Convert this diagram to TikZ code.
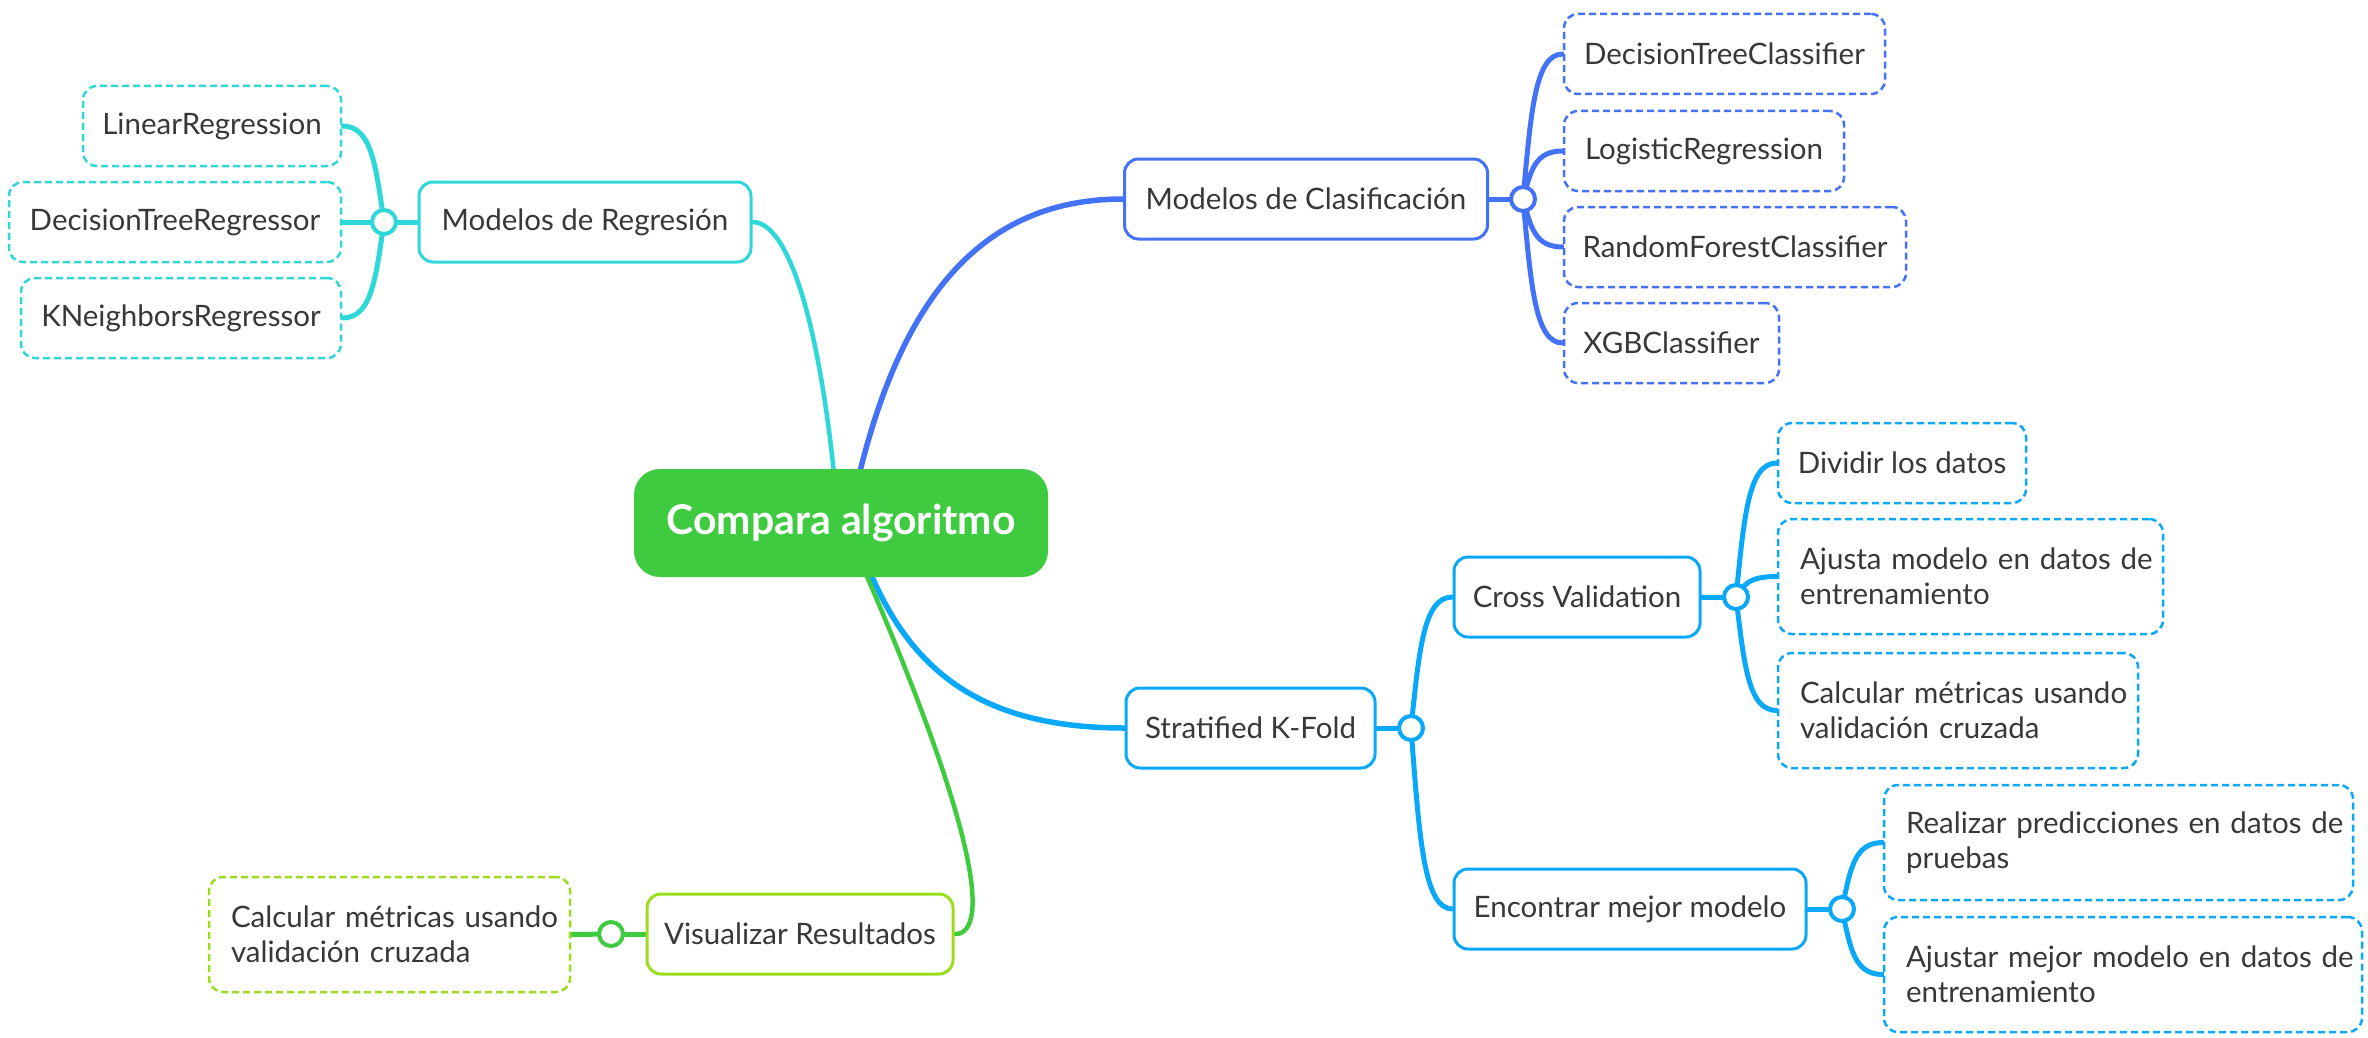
\documentclass[tikz,border=0pt]{standalone}
\usepackage{fontspec}
\setmainfont{Lato}
\usetikzlibrary{calc,backgrounds}
\definecolor{cyanc}{HTML}{2ED8D8}
\definecolor{bluec}{HTML}{4472F6}
\definecolor{skyc}{HTML}{0AA8F8}
\definecolor{greenc}{HTML}{3FCB3F}
\definecolor{limec}{HTML}{9BDD1A}
\definecolor{txt}{HTML}{383838}
\newcommand\hubleaf[3]{\draw[conn,#1] let \p1=(#2.center), \p2=(#3.west) in (\p1) .. controls ({\x1+0.2*(\x2-\x1)},{\y1+0.6*(\y2-\y1)}) and ({\x1+0.3*(\x2-\x1)},{\y2}) .. (\p2);}
\newcommand\hubleafL[3]{\draw[conn,#1] let \p1=(#2.center), \p2=(#3.east) in (\p1) .. controls ({\x1+0.2*(\x2-\x1)},{\y1+0.6*(\y2-\y1)}) and ({\x1+0.3*(\x2-\x1)},{\y2}) .. (\p2);}
\newcommand\twoln[2]{\mbox{#1}\\\mbox{#2}}
\begin{document}
\begin{tikzpicture}[x=1pt,y=-1pt,
  box/.style={draw, line width=3pt, rounded corners=14pt, fill=white, text=txt, font=\fontsize{29.5}{35}\selectfont, inner sep=0pt, align=center},
  leaf/.style={draw, line width=2.5pt, dash pattern=on 7pt off 4pt, rounded corners=14pt, fill=white, text=txt, font=\fontsize{29.5}{35}\selectfont, inner sep=0pt, align=center},
  sz/.style 2 args={minimum width=#1, minimum height=#2},
  two/.style={text width=#1, align=left},
  hub/.style={circle, draw, fill=white, line width=4pt, minimum size=24pt, inner sep=0pt},
  conn/.style={line width=5pt, line cap=round}]
\useasboundingbox (0,0) rectangle (2368,1038);
% central
\node[fill=greenc, rounded corners=26pt, minimum width=414pt, minimum height=108pt, text=white, font=\fontsize{41}{48}\selectfont\bfseries] (central) at (841,523) {Compara algoritmo};
% regression
\node[box, draw=cyanc, sz={332pt}{80pt}] (reg) at (585,222) {Modelos de Regresión};
\node[leaf, draw=cyanc, sz={258pt}{80pt}] (lin) at (212,126) {LinearRegression};
\node[leaf, draw=cyanc, sz={332pt}{80pt}] (dtr) at (175,222) {DecisionTreeRegressor};
\node[leaf, draw=cyanc, sz={320pt}{80pt}] (knr) at (181,318) {KNeighborsRegressor};
% classification
\node[box, draw=bluec, sz={363pt}{80pt}] (cla) at (1306,199) {Modelos de Clasificación};
\node[leaf, draw=bluec, sz={321pt}{80pt}] (dtc) at (1724.5,54) {DecisionTreeClassifier};
\node[leaf, draw=bluec, sz={280pt}{80pt}] (lrc) at (1704,151) {LogisticRegression};
\node[leaf, draw=bluec, sz={342pt}{80pt}] (rfc) at (1735,247) {RandomForestClassifier};
\node[leaf, draw=bluec, sz={215pt}{80pt}] (xgb) at (1671.5,343) {XGBClassifier};
% stratified
\node[box, draw=skyc, sz={249pt}{80pt}] (skf) at (1250.5,728) {Stratified K-Fold};
\node[box, draw=skyc, sz={246pt}{80pt}] (cv) at (1577,597) {Cross Validation};
\node[leaf, draw=skyc, sz={248pt}{80pt}] (div) at (1902,463) {Dividir los datos};
\node[leaf, draw=skyc, sz={385pt}{115pt}, two=341pt] (aju) at (1970.5,576.5) {\twoln{Ajusta modelo en datos de}{entrenamiento}};
\node[leaf, draw=skyc, sz={360pt}{115pt}, two=316pt] (cal) at (1958,710.5) {\twoln{Calcular métricas usando}{validación cruzada}};
\node[box, draw=skyc, sz={352pt}{80pt}] (enc) at (1630,909) {Encontrar mejor modelo};
\node[leaf, draw=skyc, sz={469pt}{115pt}, two=425pt] (rea) at (2118.5,842.5) {\twoln{Realizar predicciones en datos de}{pruebas}};
\node[leaf, draw=skyc, sz={478pt}{115pt}, two=434pt] (ajm) at (2123,974.5) {\twoln{Ajustar mejor modelo en datos de}{entrenamiento}};
% visualizar
\node[box, draw=limec, sz={306pt}{80pt}] (vis) at (800,934) {Visualizar Resultados};
\node[leaf, draw=limec, sz={361pt}{115pt}, two=317pt] (cmg) at (389.5,934.5) {\twoln{Calcular métricas usando}{validación cruzada}};
% hubs
\node[hub, draw=cyanc] (hubR) at (384,222) {};
\node[hub, draw=bluec] (hubC) at (1523,199) {};
\node[hub, draw=skyc] (hubS) at (1411,728) {};
\node[hub, draw=skyc] (hubV) at (1736,597) {};
\node[hub, draw=skyc] (hubE) at (1842,909) {};
\node[hub, draw=greenc] (hubG) at (611,934) {};
\begin{scope}[on background layer]
  \fill[white] (0,0) rectangle (2368,1038);
  % main branches
  \draw[conn, cyanc, line width=4.5pt] (reg.east) .. controls (790,222) and (820,330) .. ($(central.north)+(-6,15)$);
  \draw[conn, bluec, line width=5.5pt] (cla.west) .. controls (980,199) and (900,300) .. ($(central.north)+(16,15)$);
  \draw[conn, skyc, line width=5.5pt] (skf.west) .. controls (980,728) and (910,670) .. ($(central.south)+(27,-10)$);
  \draw[conn, greenc, line width=4.5pt] (vis.east) .. controls (985,935) and (990,860) .. ($(central.south)+(22,-10)$);
  % hub stems
  \draw[conn, cyanc] (reg.west) -- (hubR);
  \draw[conn, bluec] (cla.east) -- (hubC);
  \draw[conn, skyc] (skf.east) -- (hubS);
  \draw[conn, skyc] (cv.east) -- (hubV);
  \draw[conn, skyc] (enc.east) -- (hubE);
  \draw[conn, greenc] (vis.west) -- (hubG);
  \draw[conn, greenc] (cmg.east) -- (hubG);
  % hub to leaves
  \hubleafL{cyanc}{hubR}{lin}
  \hubleafL{cyanc}{hubR}{dtr}
  \hubleafL{cyanc}{hubR}{knr}
  \hubleaf{bluec}{hubC}{dtc}
  \hubleaf{bluec}{hubC}{lrc}
  \hubleaf{bluec}{hubC}{rfc}
  \hubleaf{bluec}{hubC}{xgb}
  \hubleaf{skyc}{hubS}{cv}
  \hubleaf{skyc}{hubS}{enc}
  \hubleaf{skyc}{hubV}{div}
  \hubleaf{skyc}{hubV}{aju}
  \hubleaf{skyc}{hubV}{cal}
  \hubleaf{skyc}{hubE}{rea}
  \hubleaf{skyc}{hubE}{ajm}
\end{scope}
\end{tikzpicture}
\end{document}
